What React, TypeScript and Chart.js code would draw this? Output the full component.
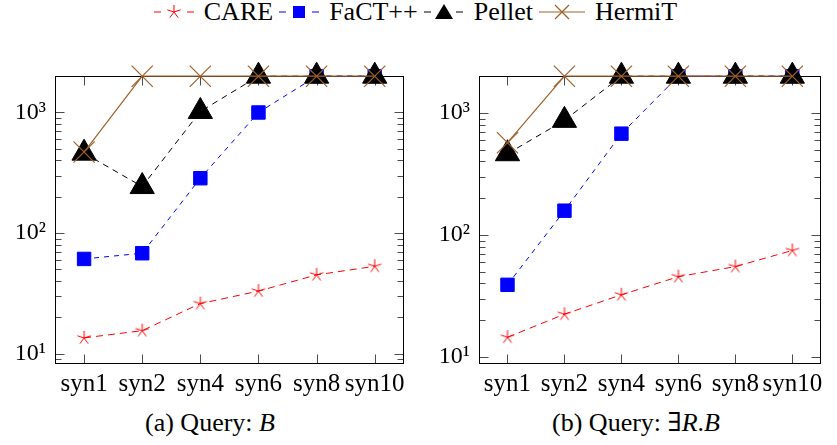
import React, { useEffect, useRef } from "react";
import { Chart, registerables } from "chart.js";

Chart.register(...registerables);

const FONT = "'Liberation Serif', 'DejaVu Serif', serif";

const categories = ["syn1", "syn2", "syn4", "syn6", "syn8", "syn10"];
const yTickValues = [10, 100, 1000];
const yTickLabels = ["10\u00b9", "10\u00b2", "10\u00b3"];

// (a) Query: B
const careA = [13.5, 15.5, 26, 33, 45, 53];
const factA = [61, 68, 285, 1000, 2000, 2000];
const pelletA = [460, 243, 1020, 2000, 2000, 2000];
const hermitA = [470, 2000, 2000, 2000, 2000, 2000];

// (b) Query: ∃R.B
const careB = [14.5, 22.4, 32.3, 45.5, 55, 74.6];
const factB = [39, 158, 676, 2000, 2000, 2000];
const pelletB = [463, 869, 2000, 2000, 2000, 2000];
const hermitB = [570, 2000, 2000, 2000, 2000, 2000];

const RED = "#ff0000";
const BLUE = "#0000ff";
const BLACK = "#000000";
const BROWN = "#a0602c";

function makeStar(r: number, color: string): HTMLCanvasElement {
  const c = document.createElement("canvas");
  const s = Math.ceil(2 * r + 4);
  c.width = s;
  c.height = s;
  const ctx = c.getContext("2d")!;
  ctx.strokeStyle = color;
  ctx.lineWidth = 1;
  ctx.beginPath();
  for (let k = 0; k < 5; k++) {
    const ang = -Math.PI / 2 + (k * 2 * Math.PI) / 5;
    ctx.moveTo(s / 2, s / 2);
    ctx.lineTo(s / 2 + r * Math.cos(ang), s / 2 + r * Math.sin(ang));
  }
  ctx.stroke();
  return c;
}

const frameTicks = {
  id: "frameTicks",
  beforeDatasetsDraw(chart: any) {
    const { ctx, chartArea: a, scales } = chart;
    const xs = scales.x;
    const ys = scales.y;
    const L = Math.round(a.left) + 0.5;
    const R = Math.round(a.right) - 0.5;
    const T = Math.round(a.top) + 0.5;
    const B = Math.round(a.bottom) - 0.5;
    ctx.save();
    ctx.strokeStyle = "rgba(0,0,0,0.7)";
    ctx.lineWidth = 1;
    ctx.beginPath();
    const ymin = ys.min;
    const ymax = ys.max;
    for (let d = 1; d <= 1000; d *= 10) {
      for (let k = 1; k <= 9; k++) {
        const v = k * d;
        if (v < ymin || v > ymax) continue;
        const py = Math.round(ys.getPixelForValue(v)) + 0.5;
        const len = k === 1 ? 9 : 6;
        ctx.moveTo(L, py);
        ctx.lineTo(L + len, py);
        ctx.moveTo(R, py);
        ctx.lineTo(R - len, py);
      }
    }
    for (let i = 0; i < categories.length; i++) {
      const px = Math.round(xs.getPixelForValue(i)) + 0.5;
      ctx.moveTo(px, B);
      ctx.lineTo(px, B - 9);
      ctx.moveTo(px, T);
      ctx.lineTo(px, T + 9);
    }
    ctx.stroke();
    ctx.strokeStyle = "#000";
    ctx.lineWidth = 1;
    ctx.strokeRect(L, T, R - L, B - T);
    ctx.restore();
  },
};

function buildChart(
  canvas: HTMLCanvasElement,
  care: number[],
  fact: number[],
  pellet: number[],
  hermit: number[],
  yMin: number,
  yWidth: number,
  padRight: number
) {
  const star = makeStar(7, RED);
  return new Chart(canvas, {
    type: "line",
    data: {
      labels: categories,
      datasets: [
        {
          label: "CARE",
          data: care,
          borderColor: RED,
          backgroundColor: RED,
          borderWidth: 1,
          borderDash: [7, 5],
          pointStyle: star as any,
          pointRadius: 7,
          order: 3,
          clip: false as any,
        },
        {
          label: "FaCT++",
          data: fact,
          borderColor: BLUE,
          backgroundColor: BLUE,
          borderWidth: 1,
          borderDash: [5, 5],
          pointStyle: "rect",
          pointRadius: 9.5,
          pointBorderWidth: 1,
          order: 2,
          clip: false as any,
        },
        {
          label: "Pellet",
          data: pellet,
          borderColor: BLACK,
          backgroundColor: BLACK,
          borderWidth: 1,
          borderDash: [6, 5],
          pointStyle: "triangle",
          pointRadius: 14,
          pointBorderWidth: 1,
          order: 1,
          clip: false as any,
        },
        {
          label: "HermiT",
          data: hermit,
          borderColor: BROWN,
          backgroundColor: BROWN,
          borderWidth: 1.2,
          pointStyle: "crossRot",
          pointRadius: 15,
          pointBorderWidth: 1.2,
          order: 0,
          clip: false as any,
        },
      ],
    },
    options: {
      animation: false,
      responsive: false,
      events: [],
      layout: { padding: { top: 15, right: padRight, left: 0, bottom: 0 } },
      plugins: { legend: { display: false }, tooltip: { enabled: false } },
      elements: { line: { tension: 0 } },
      scales: {
        x: {
          type: "category",
          offset: true,
          grid: { display: false, drawTicks: false },
          border: { display: false },
          ticks: {
            font: { family: FONT, size: 25 },
            color: "#000",
            padding: 5,
            maxRotation: 0,
            autoSkip: false,
          },
          afterFit: (s: any) => {
            s.height = 36;
            s.paddingLeft = 0;
            s.paddingRight = 0;
          },
        },
        y: {
          type: "logarithmic",
          min: yMin,
          max: 2000,
          bounds: "data",
          grid: { display: false, drawTicks: false },
          border: { display: false },
          ticks: {
            font: { family: FONT, size: 24 },
            color: "#000",
            padding: 9,
            callback: (v: any) => {
              const i = yTickValues.indexOf(Number(v));
              return i >= 0 ? yTickLabels[i] : "";
            },
          },
          afterBuildTicks: (s: any) => {
            s.ticks = yTickValues.map((v) => ({ value: v, major: true }));
          },
          afterFit: (s: any) => {
            s.width = yWidth;
            s.paddingTop = 0;
            s.paddingBottom = 0;
          },
        },
      },
    } as any,
    plugins: [frameTicks],
  });
}

function Sample({ kind }: { kind: string }) {
  if (kind === "CARE") {
    const arms = [0, 1, 2, 3, 4].map((k) => {
      const a = -Math.PI / 2 + (k * 2 * Math.PI) / 5;
      return (
        <line key={k} x1={20} y1={11} x2={20 + 7 * Math.cos(a)} y2={11 + 7 * Math.sin(a)} stroke={RED} strokeWidth={1} />
      );
    });
    return (
      <svg width={40} height={22} style={{ display: "block" }}>
        <line x1={0} y1={11} x2={7} y2={11} stroke={RED} strokeWidth={1} />
        <line x1={33} y1={11} x2={40} y2={11} stroke={RED} strokeWidth={1} />
        {arms}
      </svg>
    );
  }
  if (kind === "FaCT") {
    return (
      <svg width={40} height={22} style={{ display: "block" }}>
        <line x1={0} y1={11} x2={7} y2={11} stroke={BLUE} strokeWidth={1} />
        <line x1={33} y1={11} x2={40} y2={11} stroke={BLUE} strokeWidth={1} />
        <rect x={14} y={5} width={12} height={12} fill={BLUE} />
      </svg>
    );
  }
  if (kind === "Pellet") {
    return (
      <svg width={40} height={22} style={{ display: "block" }}>
        <line x1={0} y1={11} x2={7} y2={11} stroke={BLACK} strokeWidth={1} />
        <line x1={32} y1={11} x2={39} y2={11} stroke={BLACK} strokeWidth={1} />
        <polygon points="20,3 29,18 11,18" fill={BLACK} />
      </svg>
    );
  }
  return (
    <svg width={46} height={22} style={{ display: "block" }}>
      <line x1={0} y1={11} x2={46} y2={11} stroke={BROWN} strokeWidth={1.2} />
      <line x1={16} y1={4} x2={30} y2={18} stroke={BROWN} strokeWidth={1.2} />
      <line x1={16} y1={18} x2={30} y2={4} stroke={BROWN} strokeWidth={1.2} />
    </svg>
  );
}

const legendItems = [
  { kind: "CARE", label: "CARE" },
  { kind: "FaCT", label: "FaCT++" },
  { kind: "Pellet", label: "Pellet" },
  { kind: "HermiT", label: "HermiT" },
];

export default function App() {
  const c1 = useRef<HTMLCanvasElement>(null);
  const c2 = useRef<HTMLCanvasElement>(null);

  useEffect(() => {
    const a = buildChart(c1.current!, careA, factA, pelletA, hermitA, 8.2, 55, 11);
    const b = buildChart(c2.current!, careB, factB, pelletB, hermitB, 8.75, 59, 4);
    return () => {
      a.destroy();
      b.destroy();
    };
  }, []);

  return (
    <div
      style={{
        position: "absolute",
        left: 0,
        top: 0,
        width: 837,
        height: 445,
        fontFamily: FONT,
        color: "#000",
        background: "#fff",
        overflow: "hidden",
      }}
    >
      <div
        style={{
          position: "absolute",
          left: 0,
          top: -1,
          width: 837,
          height: 26,
          display: "flex",
          justifyContent: "center",
          alignItems: "center",
          fontSize: 26,
          lineHeight: "26px",
        }}
      >
        {legendItems.map((it) => (
          <div key={it.kind} style={{ display: "flex", alignItems: "center", marginRight: 6 }}>
            <Sample kind={it.kind} />
            <span style={{ marginLeft: 10 }}>{it.label}</span>
          </div>
        ))}
      </div>
      <canvas ref={c1} width={420} height={340} style={{ position: "absolute", left: 0, top: 60 }} />
      <canvas ref={c2} width={417} height={340} style={{ position: "absolute", left: 420, top: 60 }} />
      <div
        style={{
          position: "absolute",
          left: 0,
          top: 409,
          width: 420,
          textAlign: "center",
          fontSize: 26,
          lineHeight: "28px",
        }}
      >
        (a) Query: <i>B</i>
      </div>
      <div
        style={{
          position: "absolute",
          left: 420,
          top: 409,
          width: 432,
          textAlign: "center",
          fontSize: 26,
          lineHeight: "28px",
        }}
      >
        (b) Query: {"\u2203"}
        <i>R</i>.<i>B</i>
      </div>
    </div>
  );
}
